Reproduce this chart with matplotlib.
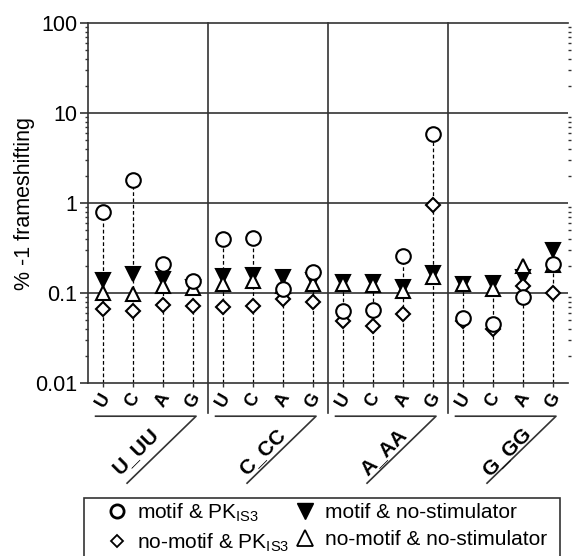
import numpy as np
import matplotlib
matplotlib.use('Agg')
import matplotlib.pyplot as plt
from matplotlib.lines import Line2D
from matplotlib.patches import Rectangle
import matplotlib.transforms as mtransforms

plt.rcParams['font.family'] = ['Liberation Sans', 'DejaVu Sans']

groups = ['U_UU', 'C_CC', 'A_AA', 'G_GG']
bases = ['U', 'C', 'A', 'G']

# % -1 frameshifting, 4 bases per group, in group order
motif_pk = [0.79, 1.82, 0.21, 0.135,
            0.40, 0.41, 0.112, 0.172,
            0.064, 0.065, 0.26, 5.8,
            0.053, 0.0455, 0.090, 0.213]
nomotif_pk = [0.067, 0.064, 0.074, 0.071,
              0.070, 0.071, 0.087, 0.079,
              0.0495, 0.0435, 0.059, 0.94,
              0.0495, 0.040, 0.119, 0.100]
motif_nostim = [0.139, 0.161, 0.143, 0.117,
                0.156, 0.158, 0.149, 0.139,
                0.133, 0.133, 0.117, 0.167,
                0.125, 0.128, 0.151, 0.303]
nomotif_nostim = [0.100, 0.097, 0.119, 0.113,
                  0.127, 0.135, 0.120, 0.125,
                  0.125, 0.122, 0.105, 0.149,
                  0.125, 0.112, 0.200, 0.204]

x = np.arange(16) + 0.5
ymin = 0.01

fig = plt.figure(figsize=(5.72, 5.56), dpi=100)
ax = fig.add_axes([0.154, 0.311, 0.839, 0.6475])
ax.set_yscale('log')
ax.set_ylim(0.01, 100)
ax.set_xlim(0, 16)

lc = '#333333'
for v in [0.1, 1, 10]:
    ax.axhline(v, color=lc, lw=1.2, zorder=1)

# drop lines
tops = np.max([motif_pk, nomotif_pk, motif_nostim, nomotif_nostim], axis=0)
ax.vlines(x, ymin, tops, colors='black', linestyles=(0, (3, 2)), lw=0.9, zorder=2)

ms = 10.5
mew = 1.5
ax.plot(x, motif_nostim, 'v', ms=ms, mfc='black', mec='black', mew=mew, ls='none', zorder=3)
ax.plot(x, nomotif_nostim, '^', ms=ms, mfc='white', mec='black', mew=mew, ls='none', zorder=4)
ax.plot(x, nomotif_pk, 'D', ms=7.4, mfc='white', mec='black', mew=mew, ls='none', zorder=5)
ax.plot(x, motif_pk, 'o', ms=ms, mfc='white', mec='black', mew=mew, ls='none', zorder=6)

# spines / ticks
for s in ['left', 'bottom', 'top']:
    ax.spines[s].set_color(lc)
    ax.spines[s].set_linewidth(1.2)
ax.spines['right'].set_visible(False)
ax.set_yticks([0.01, 0.1, 1, 10, 100])
ax.set_yticklabels(['0.01', '0.1', '1', '10', '100'], fontsize=15.5)
ax.tick_params(axis='y', which='major', length=5.8, width=1.2, color=lc, pad=2)
ax.tick_params(axis='y', which='minor', length=2.5, width=1, color=lc, right=True)
ax.set_xticks(x)
ax.set_xticklabels([])
ax.tick_params(axis='x', length=3, width=1, color=lc)
ax.set_ylabel('% -1 frameshifting', fontsize=15.5, labelpad=0)

trans = mtransforms.blended_transform_factory(ax.transData, ax.transAxes)
for i in range(16):
    ax.text(x[i], -0.048, bases[i % 4], transform=trans, rotation=60,
            ha='center', va='center', fontsize=13, fontweight='bold')

label_off = [1.6, 1.8, 1.85, 1.95]
for g, name in enumerate(groups):
    start = 4 * g
    if g > 0:
        ax.plot([start, start], [1.0, -0.083], transform=trans, color=lc,
                lw=1.2, clip_on=False, zorder=1)
    ax.plot([start + 0.25, start + 3.6, start + 1.3],
            [-0.092, -0.092, -0.278], transform=trans, color=lc, lw=1.2, clip_on=False)
    ax.text(start + label_off[g], -0.19, name, transform=trans, rotation=45,
            ha='center', va='center', fontsize=15, fontweight='bold')

# legend box, cut by the bottom of the figure
fig.patches.append(Rectangle((84 / 572, -0.05), (560 - 84) / 572, 0.05 + (556 - 498) / 556,
                             transform=fig.transFigure, fill=False, ec=lc, lw=1.2))
handles = [
    Line2D([], [], marker='o', ls='none', ms=9.5, mfc='white', mec='black', mew=2),
    Line2D([], [], marker='D', ls='none', ms=6.5, mfc='white', mec='black', mew=1.3),
    Line2D([], [], marker='v', ls='none', ms=12, mfc='black', mec='black'),
    Line2D([], [], marker='^', ls='none', ms=11, mfc='white', mec='black', mew=1.3),
]
labels = [r'motif & PK$_{\mathregular{IS3}}$', r'no-motif & PK$_{\mathregular{IS3}}$',
          'motif & no-stimulator', 'no-motif & no-stimulator']
fig.legend(handles, labels, loc='upper left', bbox_to_anchor=(108 / 572, 1 - 501 / 556),
           ncol=2, frameon=False, fontsize=15, handlelength=0.9, handletextpad=0.5,
           columnspacing=0.3, labelspacing=0.38, borderaxespad=0, borderpad=0)

fig.savefig('out.png', dpi=100)
